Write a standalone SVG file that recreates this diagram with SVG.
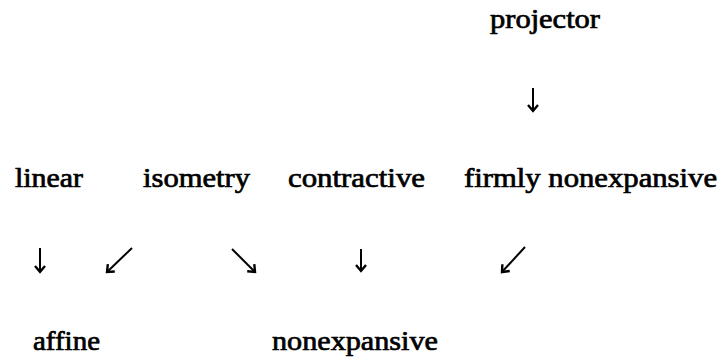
<svg xmlns="http://www.w3.org/2000/svg" width="718" height="361" viewBox="0 0 718 361">
<defs>
<style>
text{font-family:"Liberation Serif","DejaVu Serif",serif;font-size:27px;font-weight:normal;fill:#000;stroke:#000;stroke-width:0.7}
.e{stroke:#000;stroke-width:2;fill:none}
</style>
<marker id="ah" markerUnits="userSpaceOnUse" markerWidth="14" markerHeight="14" viewBox="-8 -7 10 14" refX="0" refY="0" orient="auto">
<path d="M-6,-5 L0,0 L-6,5" fill="none" stroke="#000" stroke-width="2.4" stroke-linejoin="miter"/>
</marker>
</defs>
<rect width="718" height="361" fill="#fff"/>
<g id="projector"><text x="490" y="28" textLength="110" lengthAdjust="spacingAndGlyphs">projector</text></g>
<g id="linear"><text x="15" y="187" textLength="68" lengthAdjust="spacingAndGlyphs">linear</text></g>
<g id="isometry"><text x="143" y="187" textLength="107" lengthAdjust="spacingAndGlyphs">isometry</text></g>
<g id="contractive"><text x="288" y="187" textLength="137" lengthAdjust="spacingAndGlyphs">contractive</text></g>
<g id="firmly-nonexpansive"><text x="464" y="187" textLength="253" lengthAdjust="spacingAndGlyphs">firmly nonexpansive</text></g>
<g id="affine"><text x="33" y="350" textLength="67" lengthAdjust="spacingAndGlyphs">affine</text></g>
<g id="nonexpansive"><text x="272" y="350" textLength="166" lengthAdjust="spacingAndGlyphs">nonexpansive</text></g>
<g id="connectors" class="e">
<line x1="533" y1="88" x2="533" y2="111" marker-end="url(#ah)"/>
<line x1="40" y1="248" x2="40" y2="272" marker-end="url(#ah)"/>
<line x1="132" y1="248" x2="107" y2="272" marker-end="url(#ah)"/>
<line x1="232" y1="249" x2="255" y2="272" marker-end="url(#ah)"/>
<line x1="361" y1="249" x2="361" y2="271" marker-end="url(#ah)"/>
<line x1="525" y1="247" x2="502" y2="272" marker-end="url(#ah)"/>
</g>
</svg>
